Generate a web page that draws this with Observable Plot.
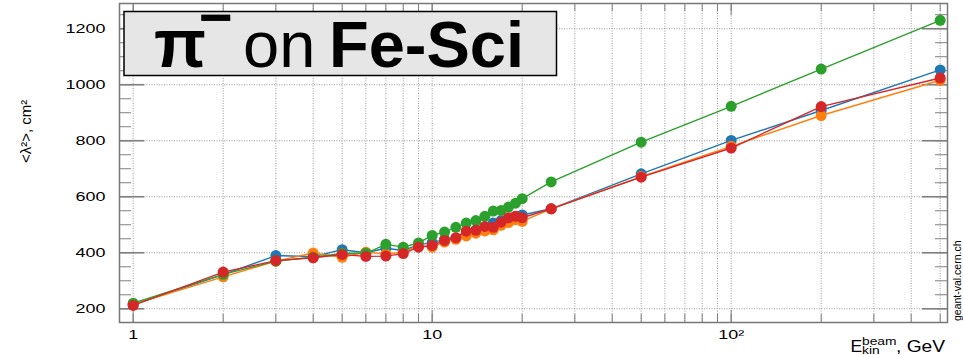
<!DOCTYPE html>
<html><head><meta charset="utf-8">
<script src="https://cdn.jsdelivr.net/npm/d3@7"></script>
<script src="https://cdn.jsdelivr.net/npm/@observablehq/plot@0.6"></script>
<style>
html,body{margin:0;padding:0;background:#fff;}
#chart{position:relative;width:963px;height:355px;overflow:hidden;}
</style></head><body><div id="chart"></div>
<script>
// ---- data ----
const energies = [1,2,3,4,5,6,7,8,9,10,11,12,13,14,15,16,17,18,19,20,25,50,100,200,500];
const seriesBlue   = [215,322,390,386,411,400,416,408,428,436,448,452,470,482,492,506,515,522,530,535,557,682,801,908,1053];
const seriesOrange = [216,314,370,399,384,402,396,402,425,420,438,448,460,470,478,482,498,508,518,512,557,672,780,890,1016];
const seriesGreen  = [220,323,370,384,398,398,430,420,435,462,474,491,506,515,530,549,551,563,577,593,653,795,923,1056,1230];
const seriesRed    = [212,331,372,382,394,387,388,397,420,426,444,454,477,480,494,491,509,525,530,525,557,670,774,922,1024];
const seriesColors = ["#1f77b4","#ff7f0e","#2ca02c","#d62728"];

const xGridTicks  = [1,2,3,4,5,6,7,8,9,10,20,30,40,50,60,70,80,90,100,200,300,400,500];
const xLabelTicks = [1,10,100];
const xLabelText  = ["1","10","10²"];
const yMajorTicks = [200,400,600,800,1000,1200];
const yMinorTicks = [200,250,300,350,400,450,500,550,600,650,700,750,800,850,900,950,1000,1050,1100,1150,1200,1250];
const yLabel = "<λ²>, cm²";
const watermark = "geant-val.cern.ch";

// ---- layout ----
const W = 963, H = 355, mL = 119, mR = 16, mT = 3, mB = 33;
const fw = W - mL - mR, fh = H - mT - mB;
const tickC = "#808080";
const FONT = "'Liberation Sans', Arial, sans-serif";

const allSeries = [seriesBlue, seriesOrange, seriesGreen, seriesRed];
const seriesMarks = allSeries.flatMap((vals, i) => {
  const rows = energies.map((e, j) => ({E: e, v: vals[j]}));
  return [
    Plot.line(rows, {x: "E", y: "v", stroke: seriesColors[i], strokeWidth: 1.4}),
    Plot.dot(rows, {x: "E", y: "v", fill: seriesColors[i], r: 5.5})
  ];
});

const plot = Plot.plot({
  width: W, height: H,
  marginLeft: mL, marginRight: mR, marginTop: mT, marginBottom: mB,
  style: {fontFamily: FONT, fontSize: "13px", color: "#000", background: "#fff"},
  x: {type: "log", domain: [0.9, 529], axis: null},
  y: {domain: [151, 1290], axis: null},
  marks: [
    Plot.gridX(xGridTicks, {stroke: "#9a9a9a", strokeOpacity: 1, strokeDasharray: "1,1.5"}),
    Plot.gridY(yMajorTicks, {stroke: "#9a9a9a", strokeOpacity: 1, strokeDasharray: "1,1.5"}),
    Plot.tickX(xGridTicks, {x: d => d, insetTop: fh - 8, stroke: tickC}),
    Plot.tickX(xLabelTicks, {x: d => d, insetTop: fh - 12, stroke: tickC}),
    Plot.tickX(xGridTicks, {x: d => d, insetBottom: fh - 8, stroke: tickC}),
    Plot.tickX(xLabelTicks, {x: d => d, insetBottom: fh - 12, stroke: tickC}),
    Plot.tickY(yMinorTicks, {y: d => d, insetRight: fw - 12, stroke: tickC}),
    Plot.tickY(yMajorTicks, {y: d => d, insetRight: fw - 25, stroke: tickC, strokeWidth: 1.6}),
    Plot.tickY(yMinorTicks, {y: d => d, insetLeft: fw - 12, stroke: tickC}),
    Plot.tickY(yMajorTicks, {y: d => d, insetLeft: fw - 25, stroke: tickC, strokeWidth: 1.6}),
    ...seriesMarks,
    Plot.frame({stroke: "#777", strokeWidth: 1.5}),
    Plot.axisX(xLabelTicks, {anchor: "bottom", tickSize: 0, tickPadding: 7, label: null,
      tickFormat: d => xLabelText[xLabelTicks.indexOf(d)]}),
    Plot.axisY(yMajorTicks, {anchor: "left", tickSize: 0, tickPadding: 14, label: null, tickFormat: d => String(d)}),
    Plot.text([yLabel], {frameAnchor: "left", dx: -93, rotate: -90, fontSize: 15, text: d => d}),
    Plot.text([watermark], {frameAnchor: "bottom-right", dx: 13, dy: -1.5, rotate: -90, textAnchor: "start", fontSize: 10.5, text: d => d})
  ]
});
document.getElementById("chart").append(plot);

// stretch tick labels horizontally like the reference
plot.querySelectorAll('g[aria-label="x-axis tick label"] text, g[aria-label="y-axis tick label"] text').forEach(t => {
  const L = t.getComputedTextLength();
  t.setAttribute("textLength", L * 1.38);
  t.setAttribute("lengthAdjust", "spacingAndGlyphs");
});

const s = d3.select(plot);
function stretchText(sel, factor) {
  const L = sel.node().getComputedTextLength();
  sel.attr("textLength", L * factor).attr("lengthAdjust", "spacingAndGlyphs");
}
// x axis label with stacked super/subscript
const xl = s.append("g").attr("font-family", FONT).attr("fill", "#000").attr("text-anchor", "start");
stretchText(xl.append("text").attr("x", 850.5).attr("y", 351.7).attr("font-size", 16).text("E"), 1.1);
stretchText(xl.append("text").attr("x", 862).attr("y", 344.5).attr("font-size", 11.5).text("beam"), 1.2);
stretchText(xl.append("text").attr("x", 862).attr("y", 354).attr("font-size", 11.5).text("kin"), 1.2);
stretchText(xl.append("text").attr("x", 896).attr("y", 351.7).attr("font-size", 16).text(", GeV"), 1.2);

// title box
const tg = s.append("g").attr("font-family", FONT).attr("fill", "#000").attr("text-anchor", "start");
tg.append("rect").attr("x", 124).attr("y", 11.5).attr("width", 432.5).attr("height", 64)
  .attr("fill", "#e6e6e6").attr("stroke", "#000").attr("stroke-width", 1.5);
tg.append("text").attr("x", 154).attr("y", 66.5).attr("font-size", 68).attr("font-weight", "bold").text("π");
tg.append("text").attr("x", 199).attr("y", 37).attr("font-size", 58).attr("font-weight", "bold").text("−");
tg.append("text").attr("x", 243).attr("y", 66.5).attr("font-size", 65).text("on");
tg.append("text").attr("x", 329).attr("y", 66.5).attr("font-size", 65).attr("font-weight", "bold").text("Fe-Sci");
</script>
</body></html>
